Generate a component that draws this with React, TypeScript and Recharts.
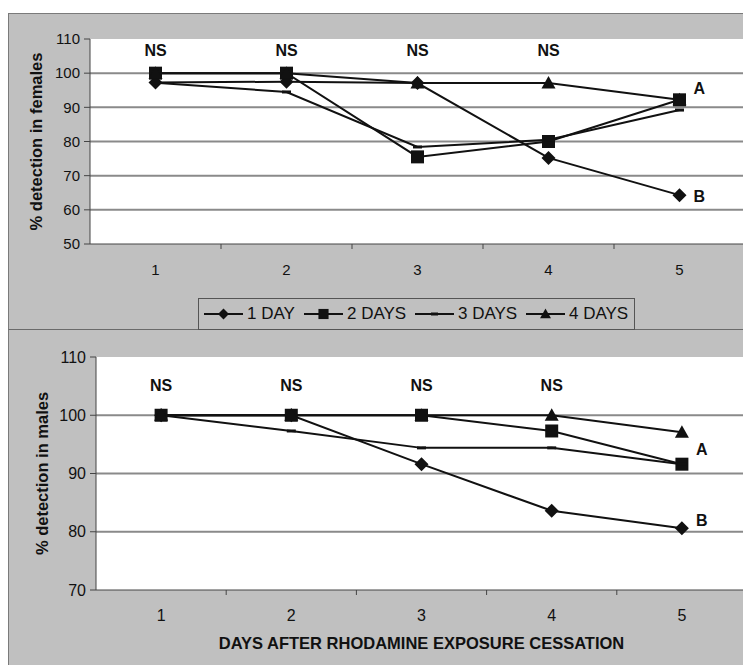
import { ComposedChart, Line, XAxis, YAxis, CartesianGrid, ReferenceLine, ReferenceDot } from 'recharts'

// x categories
const days = [1, 2, 3, 4, 5]

// females (top panel)
const femOneDay = [97.3, 97.5, 97.1, 75.2, 64.3]
const femTwoDays = [100, 100, 75.5, 80, 92.2]
const femThreeDays = [97.2, 94.5, 78.4, 80.5, 89.2]
const femFourDays = [100, 100, 97.1, 97.1, 92.2]

// males (bottom panel)
const maleOneDay = [100, 100, 91.6, 83.6, 80.6]
const maleTwoDays = [100, 100, 100, 97.3, 91.6]
const maleThreeDays = [100, 97.3, 94.4, 94.4, 91.6]
const maleFourDays = [100, 100, 100, 100, 97.1]

const femTicks = [50, 60, 70, 80, 90, 100, 110]
const maleTicks = [70, 80, 90, 100, 110]

// annotations
const nsDays = [1, 2, 3, 4]
const femNsY = 106.8
const maleNsY = 105.2
const femLetters = [{ text: 'A', y: 95.7 }, { text: 'B', y: 64.1 }]
const maleLetters = [{ text: 'A', y: 94.2 }, { text: 'B', y: 82 }]

const seriesNames = ['1 DAY', '2 DAYS', '3 DAYS', '4 DAYS']
const seriesKeys = ['d1', 'd2', 'd3', 'd4']
const seriesShapes = ['diamond', 'square', 'dash', 'triangle']
const legendX = [5, 105, 216, 327]

const FONT = '"Liberation Sans", Arial, sans-serif'
const GRAY = '#c0c0c0'
const INK = '#111'

const toRows = (cols: number[][]) =>
  days.map((d, i) => ({ day: d, d1: cols[0][i], d2: cols[1][i], d3: cols[2][i], d4: cols[3][i] }))

const femData = toRows([femOneDay, femTwoDays, femThreeDays, femFourDays])
const maleData = toRows([maleOneDay, maleTwoDays, maleThreeDays, maleFourDays])

function markerPath(shape: string, cx: number, cy: number, s = 1) {
  if (shape === 'diamond') return `M${cx},${cy - 7 * s}L${cx + 7 * s},${cy}L${cx},${cy + 7 * s}L${cx - 7 * s},${cy}Z`
  if (shape === 'square') return `M${cx - 6.5 * s},${cy - 6.5 * s}h${13 * s}v${13 * s}h${-13 * s}Z`
  if (shape === 'triangle') return `M${cx},${cy - 7 * s}L${cx + 7 * s},${cy + 5.5 * s}L${cx - 7 * s},${cy + 5.5 * s}Z`
  return `M${cx - 4.5 * s},${cy - 1.5}h${9 * s}v3h${-9 * s}Z`
}

const makeDot = (shape: string) => (props: any) => {
  const { cx, cy, index } = props
  if (cx == null || cy == null) return <g key={index} />
  return <path key={index} d={markerPath(shape, cx, cy)} fill={INK} stroke="none" />
}

const boundaryTicks = days.slice(0, -1).map((d) => d + 0.5)
const xTicks = [...days, ...boundaryTicks].sort((a, b) => a - b)

const makeXTick = (fontSize: number) => (props: any) => {
  const { x, y, payload } = props
  const v = payload.value
  if (Number.isInteger(v)) {
    return (
      <text x={x} y={y + 25} textAnchor="middle" dominantBaseline="central" fontSize={fontSize} fill={INK} fontFamily={FONT}>
        {v}
      </text>
    )
  }
  return <line x1={x} x2={x} y1={y} y2={y + 5} stroke="#444" strokeWidth={1} />
}

function Panel({ data, ticks, domain, nsY, letters, yTitle, width, height, margin, tickFont, xTitle }: any) {
  return (
    <ComposedChart width={width} height={height} data={data} margin={margin}>
      <CartesianGrid fill="#fff" horizontal={false} vertical={false} />
      {ticks.slice(1, -1).map((t: number) => (
        <ReferenceLine key={t} y={t} stroke="#8a8a8a" strokeWidth={2} />
      ))}
      <XAxis
        dataKey="day"
        type="number"
        domain={[0.5, 5.5]}
        ticks={xTicks}
        interval={0}
        tickLine={false}
        tickSize={0}
        tickMargin={0}
        height={30}
        axisLine={{ stroke: '#444' }}
        tick={makeXTick(tickFont)}
        label={xTitle ? { value: xTitle, position: 'bottom', offset: 17, fill: INK, fontSize: 16.5, fontWeight: 'bold', fontFamily: FONT } : undefined}
      />
      <YAxis
        type="number"
        domain={domain}
        ticks={ticks}
        interval={0}
        width={80}
        tickSize={6}
        tickMargin={4}
        axisLine={{ stroke: '#444' }}
        tickLine={{ stroke: '#444' }}
        tick={{ fill: INK, fontSize: tickFont, fontFamily: FONT }}
        label={{ value: yTitle, angle: -90, position: 'insideLeft', offset: 26, style: { textAnchor: 'middle' }, fill: INK, fontSize: 16.5, fontWeight: 'bold', fontFamily: FONT }}
      />
      {seriesKeys.map((k, i) => (
        <Line
          key={k}
          dataKey={k}
          name={seriesNames[i]}
          stroke={INK}
          strokeWidth={2}
          dot={makeDot(seriesShapes[i])}
          activeDot={false}
          isAnimationActive={false}
        />
      ))}
      {nsDays.map((d) => (
        <ReferenceDot key={'ns' + d} x={d} y={nsY} r={0} stroke="none" fill="none"
          label={{ value: 'NS', position: 'center', fill: INK, fontSize: 16, fontWeight: 'bold', fontFamily: FONT }} />
      ))}
      {letters.map((l: any) => (
        <ReferenceDot key={l.text} x={days[days.length - 1]} y={l.y} r={0} stroke="none" fill="none"
          label={{ value: l.text, position: 'right', offset: 14, fill: INK, fontSize: 16, fontWeight: 'bold', fontFamily: FONT }} />
      ))}
    </ComposedChart>
  )
}

function LegendIcon({ shape }: { shape: string }) {
  return (
    <svg width={39} height={16} style={{ display: 'block' }}>
      <line x1={0} x2={39} y1={8} y2={8} stroke={INK} strokeWidth={2} />
      <path d={markerPath(shape, 19.5, 8, 0.78)} fill={INK} />
    </svg>
  )
}

export default function App() {
  return (
    <div style={{ position: 'absolute', left: 0, top: 0, width: 743, height: 665, background: '#fff', overflow: 'hidden', fontFamily: FONT }}>
      <div style={{ position: 'absolute', left: 8, top: 13, width: 735, height: 317, background: GRAY, borderTop: '1px solid #7a7a7a', borderLeft: '1px solid #7a7a7a', boxSizing: 'border-box' }} />
      <div style={{ position: 'absolute', left: 8, top: 329, width: 735, height: 336, background: GRAY, borderTop: '1px solid #6a6a6a', borderLeft: '1px solid #7a7a7a', boxSizing: 'border-box' }} />
      <div style={{ position: 'absolute', left: 0, top: 0 }}>
        <Panel
          data={femData}
          ticks={femTicks}
          domain={[50, 110]}
          nsY={femNsY}
          letters={femLetters}
          yTitle="% detection in females"
          width={760}
          height={330}
          margin={{ top: 39, right: 15, left: 10, bottom: 56 }}
          tickFont={15}
        />
      </div>
      <div style={{ position: 'absolute', left: 0, top: 330 }}>
        <Panel
          data={maleData}
          ticks={maleTicks}
          domain={[70, 110]}
          nsY={maleNsY}
          letters={maleLetters}
          yTitle="% detection in males"
          xTitle="DAYS AFTER RHODAMINE EXPOSURE CESSATION"
          width={760}
          height={335}
          margin={{ top: 27, right: 13, left: 16, bottom: 45 }}
          tickFont={16}
        />
      </div>
      <div style={{ position: 'absolute', left: 198, top: 298, width: 437, height: 32, border: '1px solid #555', background: GRAY, boxSizing: 'border-box' }}>
        {seriesNames.map((n, i) => (
          <div key={n} style={{ position: 'absolute', left: legendX[i], top: 0, height: 30, display: 'flex', alignItems: 'center', gap: 4 }}>
            <LegendIcon shape={seriesShapes[i]} />
            <span style={{ fontSize: 17, color: INK, whiteSpace: 'nowrap' }}>{n}</span>
          </div>
        ))}
      </div>
    </div>
  )
}
